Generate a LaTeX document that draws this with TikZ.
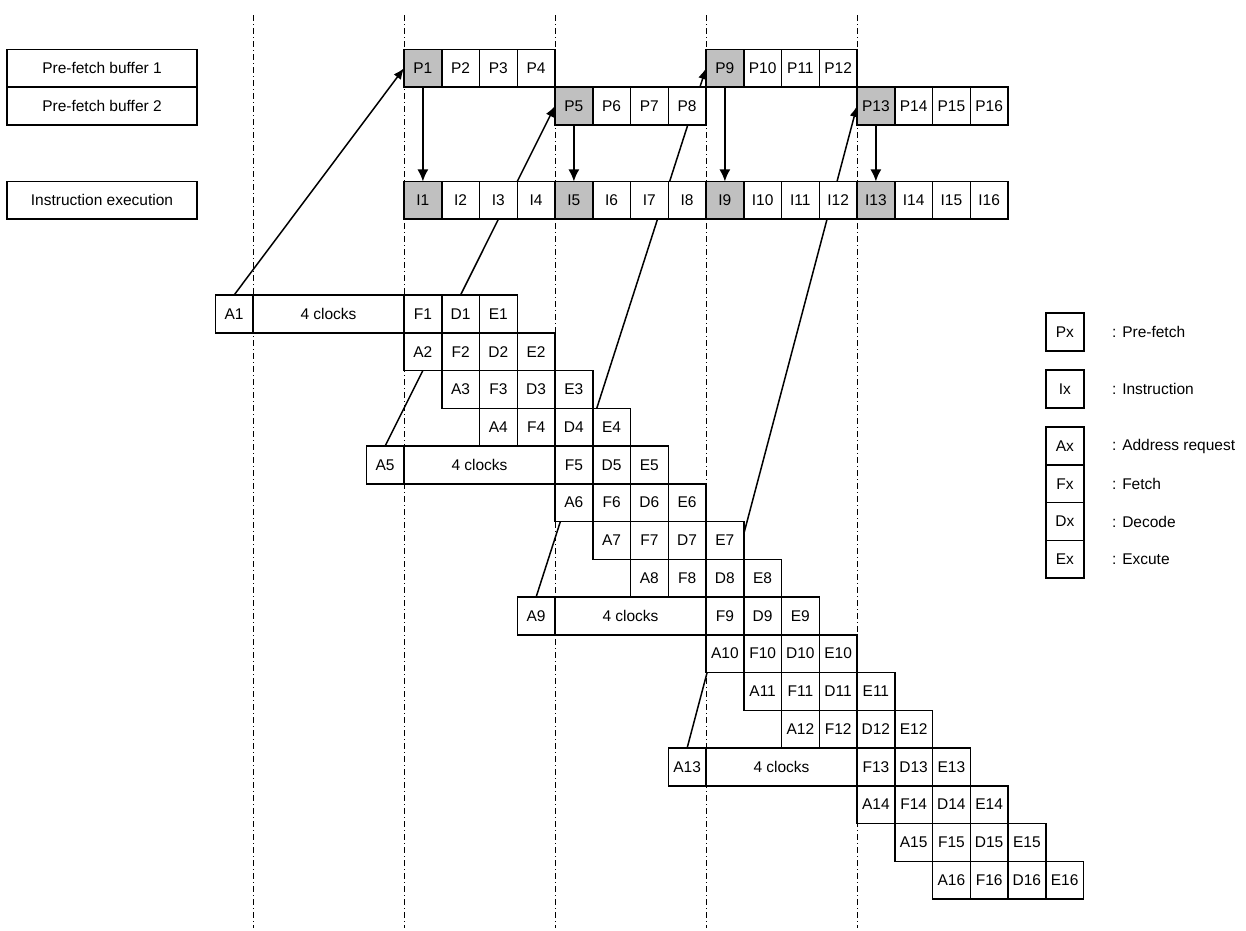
\documentclass[tikz,border=0pt]{standalone}
\usepackage{fontspec}
\setmainfont{Liberation Sans}
\usetikzlibrary{arrows.meta,calc}
\pgfdeclarelayer{bg}
\pgfsetlayers{bg,main}
\definecolor{hlgray}{RGB}{192,192,192}
\tikzset{
  cell/.style={draw, fill=white, minimum width=37.75pt, minimum height=37.75pt,
    inner sep=0pt, outer sep=0pt, line width=1.5pt, font=\fontsize{15.5}{18}\selectfont},
  hl/.style={cell, fill=hlgray},
  rowlabel/.style={cell, minimum width=190pt},
  legtext/.style={anchor=west, inner sep=0pt, font=\fontsize{15.5}{18}\selectfont},
  timeline/.style={line width=0.8pt, dash pattern=on 6pt off 3pt on 1pt off 3pt},
  feed/.style={line width=1.5pt, -{Latex[length=11pt,width=9pt]}},
  load/.style={line width=1.5pt, -{Latex[length=12pt,width=11pt]}}
}
\begin{document}
\begin{tikzpicture}[x=1pt,y=-1pt]
\useasboundingbox (0,0) rectangle (1246,930);
% row labels
\node[rowlabel] (lb1) at (102,68.2) {Pre-fetch buffer 1};
\node[rowlabel] (lb2) at (102,105.9) {Pre-fetch buffer 2};
\node[rowlabel] (lbi) at (102,200.3) {Instruction execution};
% prefetch buffers
\foreach \i in {1,...,4}{
  \pgfmathsetmacro\xx{404+(\i-0.5)*37.75}
  \pgfmathsetmacro\xb{404+(\i+8-0.5)*37.75}
  \pgfmathtruncatemacro\j{\i+8}
  \ifnum\i=1
    \node[hl] (P\i) at (\xx,68.2) {P\i};
    \node[hl] (P\j) at (\xb,68.2) {P\j};
  \else
    \node[cell] (P\i) at (\xx,68.2) {P\i};
    \node[cell] (P\j) at (\xb,68.2) {P\j};
  \fi
}
\foreach \i in {5,...,8}{
  \pgfmathsetmacro\xx{404+(\i-0.5)*37.75}
  \pgfmathsetmacro\xb{404+(\i+8-0.5)*37.75}
  \pgfmathtruncatemacro\j{\i+8}
  \ifnum\i=5
    \node[hl] (P\i) at (\xx,105.9) {P\i};
    \node[hl] (P\j) at (\xb,105.9) {P\j};
  \else
    \node[cell] (P\i) at (\xx,105.9) {P\i};
    \node[cell] (P\j) at (\xb,105.9) {P\j};
  \fi
}
% instruction execution
\foreach \i in {1,...,16}{
  \pgfmathsetmacro\xx{404+(\i-0.5)*37.75}
  \pgfmathtruncatemacro\m{mod(\i-1,4)}
  \ifnum\m=0
    \node[hl] (I\i) at (\xx,200.3) {I\i};
  \else
    \node[cell] (I\i) at (\xx,200.3) {I\i};
  \fi
}
% pipeline
\foreach \k in {1,...,16}{
  \pgfmathsetmacro\yy{295+(\k-1)*37.75+18.875}
  \pgfmathtruncatemacro\m{mod(\k-1,4)}
  \ifnum\m=0
    \node[cell] (A\k) at ({404+(\k-6+0.5)*37.75},\yy) {A\k};
    \node[cell, minimum width=151pt] (C\k) at ({404+(\k-3)*37.75},\yy) {4 clocks};
  \else
    \node[cell] (A\k) at ({404+(\k-2+0.5)*37.75},\yy) {A\k};
  \fi
  \node[cell] (F\k) at ({404+(\k-1+0.5)*37.75},\yy) {F\k};
  \node[cell] (D\k) at ({404+(\k+0.5)*37.75},\yy) {D\k};
  \node[cell] (E\k) at ({404+(\k+1+0.5)*37.75},\yy) {E\k};
}
% loads from prefetch buffer into execution
\foreach \i in {1,5,9,13}{
  \draw[load] (P\i.south) -- (I\i.north);
}
% legend
\node[cell] (LP) at (1064.9,332) {Px};
\node[cell] (LI) at (1064.9,389) {Ix};
\node[cell] (LA) at (1064.9,446) {Ax};
\node[cell] (LF) at (1064.9,483.75) {Fx};
\node[cell] (LD) at (1064.9,521.5) {Dx};
\node[cell] (LE) at (1064.9,559.25) {Ex};
\node[legtext] (tP) at (1112,332) {: Pre-fetch};
\node[legtext] (tI) at (1112,389) {: Instruction};
\node[legtext] (tA) at (1112,446) {: Address request};
\node[legtext] (tF) at (1112,483.75) {: Fetch};
\node[legtext] (tD) at (1112,521.5) {: Decode};
\node[legtext] (tE) at (1112,559.25) {: Excute};
% background: time lines and pre-fetch requests
\begin{pgfonlayer}{bg}
  \foreach \c in {-1,...,3}{
    \coordinate (top\c) at ({404+\c*151},15);
    \coordinate (bot\c) at ({404+\c*151},928);
    \draw[timeline] (top\c) -- (bot\c);
  }
  \draw[feed] (A1.north) -- (P1.west);
  \draw[feed] (A5.north) -- (P5.west);
  \draw[feed] (A9.north) -- (P9.west);
  \draw[feed] (A13.north) -- (P13.west);
\end{pgfonlayer}
\end{tikzpicture}
\end{document}
